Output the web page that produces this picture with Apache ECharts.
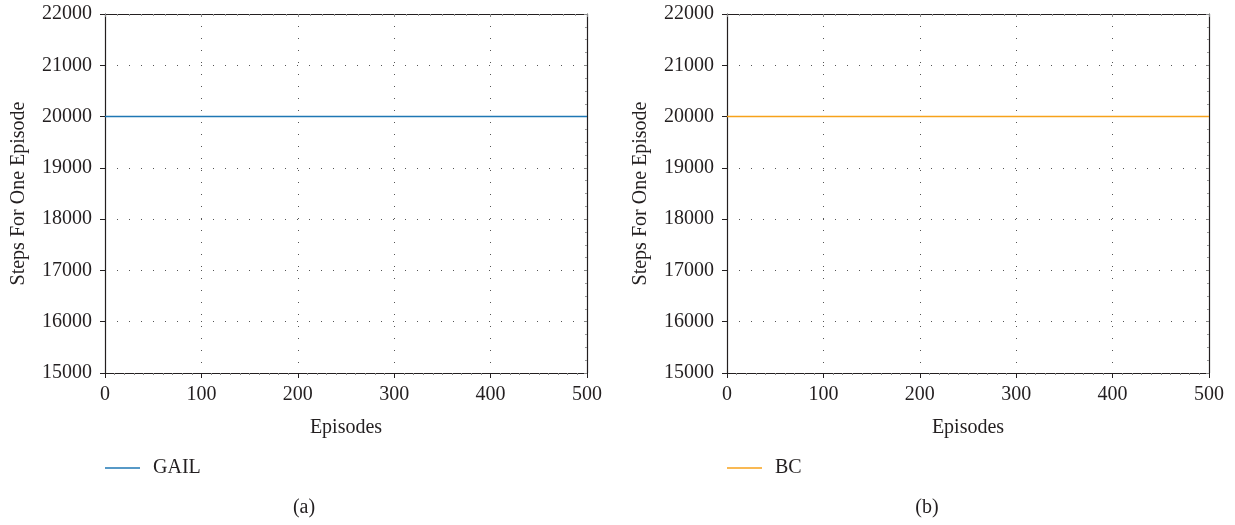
<!DOCTYPE html>
<html>
  <head>
    <meta charset="utf-8" />
    <title>Steps For One Episode</title>
    <script src="https://cdn.jsdelivr.net/npm/echarts@6/dist/echarts.min.js"></script>
    <style>
      body { margin: 0; background: #fff; }
    </style>
  </head>
  <body>
    <div id="main" style="width: 1235px;height:525px;"></div>
    <script type="text/javascript">
        // data
        var episodes = [0, 500];
        var gailSteps = [20000, 20000];
        var bcSteps = [20000, 20000];
        var panelNames = ['GAIL', 'BC'];
        var panelCaptions = ['(a)', '(b)'];
        var seriesColors = ['#1f77b4', '#f7a21b'];

        var font = 'Liberation Serif';
        var txt = { fontFamily: font, fontSize: 20, color: '#231f20' };

        function pairs(xs, ys) {
            var out = [];
            for (var i = 0; i < xs.length; i++) out.push([xs[i], ys[i]]);
            return out;
        }
        function plain(v) { return String(v); }

        var grids = [
            { left: 105, right: 648, top: 14, bottom: 152 },
            { left: 727, right: 26, top: 14, bottom: 152 }
        ];
        var dotted = { show: true, lineStyle: { color: '#555', width: 1, type: [1, 11] } };
        var frame = { onZero: false, lineStyle: { color: '#231f20', width: 1.2 } };

        var xAxes = [], yAxes = [], series = [], legends = [], titles = [];
        var values = [gailSteps, bcSteps];
        for (var g = 0; g < 2; g++) {
            // bottom x axis with labels
            xAxes.push({
                gridIndex: g, type: 'value', min: 0, max: 500, interval: 100, position: 'bottom',
                name: 'Episodes', nameLocation: 'middle', nameGap: 45, nameTextStyle: txt,
                axisLine: frame,
                axisTick: { show: true, length: 5, lineStyle: { color: '#231f20' } },
                minorTick: { show: true, splitNumber: 10, length: 2, lineStyle: { color: '#888' } },
                axisLabel: Object.assign({ margin: 12, formatter: plain }, txt),
                splitLine: dotted
            });
            // top x axis (frame)
            xAxes.push({
                gridIndex: g, type: 'value', min: 0, max: 500, interval: 100, position: 'top',
                axisLine: frame,
                axisTick: { show: true, inside: true, length: 3, lineStyle: { color: '#888' } },
                minorTick: { show: true, splitNumber: 8, length: 2, lineStyle: { color: '#999' } },
                axisLabel: { show: false }, splitLine: { show: false }
            });
            yAxes.push({
                gridIndex: g, type: 'value', min: 15000, max: 22000, interval: 1000, position: 'left',
                name: 'Steps For One Episode', nameLocation: 'middle', nameGap: 76, nameTextStyle: txt,
                axisLine: frame,
                axisTick: { show: true, length: 5, lineStyle: { color: '#231f20' } },
                axisLabel: Object.assign({ margin: 13, formatter: plain }, txt),
                splitLine: dotted
            });
            yAxes.push({
                gridIndex: g, type: 'value', min: 15000, max: 22000, interval: 1000, position: 'right',
                axisLine: frame,
                axisTick: { show: true, inside: true, length: 3, lineStyle: { color: '#888' } },
                minorTick: { show: true, splitNumber: 4, length: 2, lineStyle: { color: '#999' } },
                axisLabel: { show: false }, splitLine: { show: false }
            });
            series.push({
                name: panelNames[g], type: 'line',
                xAxisIndex: g * 2, yAxisIndex: g * 2,
                data: pairs(episodes, values[g]),
                showSymbol: false, symbol: 'none',
                lineStyle: { color: seriesColors[g], width: 1.5 },
                itemStyle: { color: seriesColors[g] }
            });
            legends.push({
                data: [{ name: panelNames[g], icon: 'rect' }],
                left: g === 0 ? 105 : 727, top: 458, padding: 0,
                itemWidth: 35, itemHeight: 1.5,
                textStyle: Object.assign({ padding: [0, 0, 0, 8] }, txt)
            });
            titles.push({
                text: panelCaptions[g],
                left: g === 0 ? 304 : 927, top: 498,
                textAlign: 'center', padding: 0,
                textStyle: { fontFamily: font, fontSize: 20, fontWeight: 'normal', color: '#231f20' }
            });
        }

        var myChart = echarts.init(document.getElementById('main'));
        var option = {
            animation: false,
            backgroundColor: '#fff',
            title: titles,
            legend: legends,
            grid: grids,
            xAxis: xAxes,
            yAxis: yAxes,
            series: series
        };
        myChart.setOption(option);
    </script>
  </body>
</html>
